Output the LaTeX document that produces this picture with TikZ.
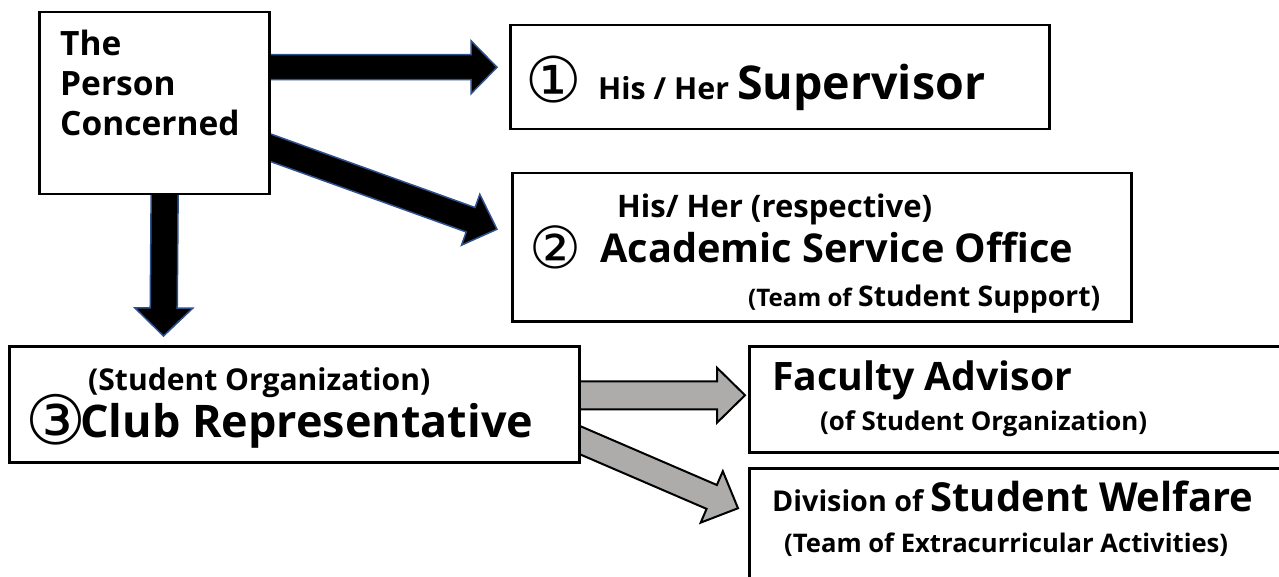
\documentclass[tikz,border=0pt]{standalone}
\usepackage{fontspec}
\setmainfont{Open Sans}
\newfontfamily\circfont{DejaVu Sans}
\usepackage{graphicx}
\usetikzlibrary{calc,backgrounds}
\definecolor{arrowblue}{HTML}{2F528F}
\definecolor{arrowgray}{HTML}{AEABAB}
\newcommand\fw[2]{\resizebox{#1pt}{!}{#2}}
\newcommand\fsz[1]{\fontsize{#1}{#1}\selectfont}
\newcommand\blockarrow[6]{%
  \coordinate (ba-h) at ($(#3)!#6!(#2)$);
  \draw[#1] ($(#2)!#4!90:(#3)$) -- ($(ba-h)!#4!90:(#3)$) -- ($(ba-h)!#5!90:(#3)$)
    -- (#3) -- ($(ba-h)!#5!-90:(#3)$) -- ($(ba-h)!#4!-90:(#3)$) -- ($(#2)!#4!-90:(#3)$) -- cycle;}
\tikzset{
  box/.style={draw=black, line width=2.5pt, fill=white, inner sep=0pt, anchor=north west},
  txt/.style={anchor=base west, inner sep=0pt, font=\bfseries},
  circ/.style={anchor=center, inner sep=0pt, font=\circfont},
  blackarrow/.style={fill=black, draw=arrowblue, line width=1.5pt, line join=miter},
  grayarrow/.style={fill=arrowgray, draw=black, line width=2pt, line join=miter}
}
\begin{document}
\begin{tikzpicture}[x=1pt,y=-1pt]
\useasboundingbox (0,0) rectangle (1279,577);
% boxes
\node[box, minimum width=230pt, minimum height=182pt] (person) at (38,11) {};
\node[box, minimum width=539pt, minimum height=104pt] (sup) at (509,24) {};
\node[box, minimum width=619pt, minimum height=148pt] (aca) at (511,172) {};
\node[box, minimum width=570pt, minimum height=116pt] (club) at (8,345) {};
\node[box, minimum width=545pt, minimum height=106pt] (fac) at (748,345) {};
\node[box, minimum width=545pt, minimum height=123pt] (wel) at (748,467) {};
% arrow end points
\coordinate (a1s) at ($(person.east)+(-10,-36)$);
\coordinate (a1t) at ($(sup.west)+(-12,-10)$);
\coordinate (a2s) at ($(person.east)+(-18,38)$);
\coordinate (a2t) at ($(aca.west)+(-14,-18)$);
\coordinate (a3s) at ($(person.south)+(10.5,-13)$);
\coordinate (a3t) at ($(club.north west)+(155.5,-9)$);
\coordinate (g1s) at ($(club.east)+(-18,-9)$);
\coordinate (g1t) at ($(fac.west)+(-3,-4)$);
\coordinate (g2s) at ($(club.east)+(-16.6,29)$);
\coordinate (g2t) at ($(wel.west)+(-10,-21.5)$);
\begin{pgfonlayer}{background}
\blockarrow{blackarrow}{a1s}{a1t}{12.5pt}{26.5pt}{26pt}
\blockarrow{blackarrow}{a2s}{a2t}{13pt}{27pt}{28pt}
\blockarrow{blackarrow}{a3s}{a3t}{13.5pt}{29pt}{28pt}
\blockarrow{grayarrow}{g1s}{g1t}{14pt}{27.5pt}{28pt}
\blockarrow{grayarrow}{g2s}{g2t}{13pt}{28pt}{28.6pt}
\end{pgfonlayer}
% texts
\node[txt] (tthe) at (60,56) {\fsz{33.5}The};
\node[txt] (tperson) at (60,96) {\fsz{33.5}Person};
\node[txt] (tconc) at (60,136) {\fsz{33.5}Concerned};
\node[circ] (c1) at (554,80) {\fsz{63}①};
\node[txt] (tsup) at (598,100) {\fw{387}{\fsz{30}His / Her \fsz{46}Supervisor}};
\node[txt] (taca1) at (617,218) {\fw{315}{\fsz{31.5}His/ Her (respective)}};
\node[circ] (c2) at (555,247) {\fsz{58}②};
\node[txt] (taca2) at (600,262) {\fw{473}{\fsz{39.7}Academic Service Office}};
\node[txt] (taca3) at (748,306) {\fw{352}{\fsz{23}(Team of \fsz{27}Student Support)}};
\node[txt] (tclub1) at (88,390) {\fw{342}{\fsz{30.4}(Student Organization)}};
\node[circ] (c3) at (56,420) {\fsz{68}③};
\node[txt] (tclub2) at (80,437) {\fw{453}{\fsz{46.4}Club Representative}};
\node[txt] (tfac1) at (772,390) {\fw{300}{\fsz{39}Faculty Advisor}};
\node[txt] (tfac2) at (820,430) {\fw{327}{\fsz{26}(of Student Organization)}};
\node[txt] (twel1) at (772,511) {\fw{481}{\fsz{28}Division of \fsz{39}Student Welfare}};
\node[txt] (twel2) at (784,552) {\fw{444}{\fsz{26}(Team of Extracurricular Activities)}};
\end{tikzpicture}
\end{document}
